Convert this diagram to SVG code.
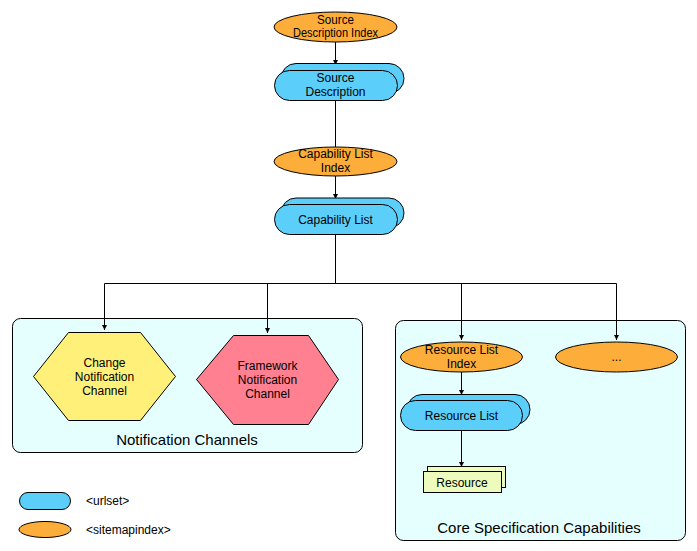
<svg xmlns="http://www.w3.org/2000/svg" width="697" height="551" viewBox="0 0 697 551">
<defs>
<style>
text{font-family:"Liberation Sans",Arial,sans-serif;font-size:12px;fill:#000;text-anchor:middle}
.big{font-size:15px}
.left{text-anchor:start}
.idx{fill:#FDAE3A;stroke:#000;stroke-width:1}
.url{fill:#5BCEFA;stroke:#000;stroke-width:1}
.grp{fill:#E5FFFF;stroke:#000;stroke-width:1}
.res{fill:#EDFCBC;stroke:#000;stroke-width:1}
.conn{fill:none;stroke:#000;stroke-width:1}
</style>
<marker id="ah" viewBox="0 0 8 8" refX="8" refY="4" markerWidth="5" markerHeight="5" markerUnits="userSpaceOnUse" orient="auto">
<path d="M0,0 L8,4 L0,8 z" fill="#000"/>
</marker>
</defs>
<rect width="697" height="551" fill="#fff"/>

<g id="group-notification">
<rect class="grp" x="12.5" y="318.5" width="350" height="134" rx="8"/>
<text class="big" x="187" y="445">Notification Channels</text>
</g>
<g id="group-core">
<rect class="grp" x="395.5" y="320.5" width="290" height="220" rx="8"/>
<text class="big" x="539" y="533">Core Specification Capabilities</text>
</g>

<g id="connectors">
<path class="conn" d="M335.5,42 V65" marker-end="url(#ah)"/>
<path class="conn" d="M335.5,100 V147"/>
<path class="conn" d="M335.5,176 V199" marker-end="url(#ah)"/>
<path class="conn" d="M335.5,235 V283.5 M104.5,283.5 H616.5"/>
<path class="conn" d="M104.5,283.5 V330" marker-end="url(#ah)"/>
<path class="conn" d="M267.5,283.5 V333" marker-end="url(#ah)"/>
<path class="conn" d="M461.5,283.5 V340" marker-end="url(#ah)"/>
<path class="conn" d="M616.5,283.5 V340" marker-end="url(#ah)"/>
<path class="conn" d="M461.5,372 V395" marker-end="url(#ah)"/>
<path class="conn" d="M461.5,431 V467" marker-end="url(#ah)"/>
</g>

<g id="source-description-index">
<ellipse class="idx" cx="335.5" cy="27" rx="61.5" ry="15"/>
<text x="335.5" y="24" textLength="37" lengthAdjust="spacingAndGlyphs">Source</text>
<text x="335.5" y="37" textLength="85" lengthAdjust="spacingAndGlyphs">Description Index</text>
</g>

<g id="source-description">
<rect class="url" x="281" y="63.5" width="123" height="30" rx="15"/>
<rect class="url" x="274.5" y="70.5" width="123" height="30" rx="15"/>
<text x="335.5" y="82">Source</text>
<text x="335.5" y="96">Description</text>
</g>

<g id="capability-list-index">
<ellipse class="idx" cx="335.5" cy="161.5" rx="61.5" ry="14.5"/>
<text x="335.5" y="158">Capability List</text>
<text x="335.5" y="172">Index</text>
</g>

<g id="capability-list">
<rect class="url" x="281" y="198" width="123" height="30" rx="15"/>
<rect class="url" x="274.5" y="204.5" width="123" height="30" rx="15"/>
<text x="335.5" y="224">Capability List</text>
</g>

<g id="change-notification-channel">
<polygon points="33.5,376.5 68.5,332.5 140.5,332.5 175.5,376.5 140.5,420.5 68.5,420.5" fill="#FFF07A" stroke="#000" stroke-width="1"/>
<text x="104.5" y="367">Change</text>
<text x="104.5" y="381">Notification</text>
<text x="104.5" y="395">Channel</text>
</g>

<g id="framework-notification-channel">
<polygon points="196.5,379.5 233.5,335.5 308.5,335.5 338.5,379.5 308.5,424.5 233.5,424.5" fill="#FF8090" stroke="#000" stroke-width="1"/>
<text x="267.5" y="370">Framework</text>
<text x="267.5" y="384">Notification</text>
<text x="267.5" y="398">Channel</text>
</g>

<g id="resource-list-index">
<ellipse class="idx" cx="461.5" cy="357" rx="61" ry="15"/>
<text x="461.5" y="354">Resource List</text>
<text x="461.5" y="368">Index</text>
</g>

<g id="other-index">
<ellipse class="idx" cx="616.5" cy="357" rx="61" ry="15"/>
<text x="616.5" y="361">...</text>
</g>

<g id="resource-list">
<rect class="url" x="407" y="394.5" width="123" height="30" rx="15"/>
<rect class="url" x="400.5" y="400.5" width="122" height="30" rx="15"/>
<text x="461.5" y="420">Resource List</text>
</g>

<g id="resource">
<rect class="res" x="427.5" y="466.5" width="78" height="21"/>
<rect class="res" x="423.5" y="471.5" width="78" height="21"/>
<text x="462" y="486.5">Resource</text>
</g>

<g id="legend">
<rect class="url" x="19.5" y="492.5" width="51" height="17" rx="8.5"/>
<text class="left" x="86" y="505">&lt;urlset&gt;</text>
<ellipse class="idx" cx="45" cy="529.5" rx="26" ry="8"/>
<text class="left" x="86" y="534">&lt;sitemapindex&gt;</text>
</g>
</svg>
